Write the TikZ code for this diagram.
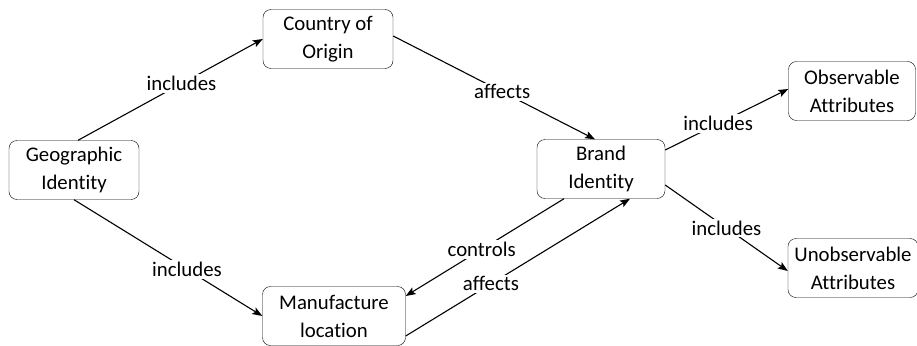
\documentclass[tikz,border=0pt]{standalone}
\usepackage{fontspec}
\setmainfont{Carlito}[Ligatures=NoCommon]
\usepackage{tikz}
\usetikzlibrary{positioning, arrows.meta}
\tikzset{
	line width = 1.1pt,
	>={Stealth[length=10pt, width=7.5pt, inset=2pt]},
	font = \fontsize{20.8}{28}\selectfont,
	box/.style={
		draw,
		rectangle,
		rounded corners=8pt,
		align=center,
		minimum width=130pt,
		minimum height=59pt,
		inner sep=2pt
	},
	rel/.style={
		->,
		line width=1.1pt
	},
	lbl/.style={
		fill=white,
		inner sep=2pt,
		sloped=false
	}
}

\begin{document}
\begin{tikzpicture}[x=1pt, y=-1pt]
% ---
% Geographic identity and brand identity
% ---
\useasboundingbox (0,0) rectangle (917,345);
\node[box] at (74,170) (geo) {Geographic\\Identity};
\node[box] at (328,39) (coo) {Country of\\Origin};
\node[box, minimum width=143pt] at (334,316) (man) {Manufacture\\location};
\node[box, minimum width=128pt] at (601,169) (brand) {Brand\\Identity};
\node[box, minimum width=127pt] at (852,91) (obs) {Observable\\Attributes};
\node[box] at (853,268) (unobs) {Unobservable\\Attributes};

\draw[rel] ([xshift=4pt]geo.north) to node[lbl, pos=.56] (l1) {includes} (coo.west);
\draw[rel] (geo.south) to node[lbl, pos=.6] (l2) {includes} (man.west);
\draw[rel] ([yshift=3pt]coo.east) to node[lbl, pos=.54] (l3) {affects} ([xshift=-6pt]brand.north);

\draw[rel] ([xshift=-37pt]brand.south) to node[lbl, pos=.52] (l4) {controls} ([yshift=20pt]man.east);
\draw[rel] ([yshift=-20pt]man.east) to node[lbl, pos=.38] (l5) {affects} ([xshift=29pt]brand.south);

\draw[rel] ([yshift=19pt]brand.east) to node[lbl, pos=.43] (l6) {includes} ([yshift=2pt]obs.west);
\draw[rel] ([yshift=-16pt]brand.east) to node[lbl, pos=.5] (l7) {includes} ([yshift=-3pt]unobs.west);
\end{tikzpicture}
\end{document}
